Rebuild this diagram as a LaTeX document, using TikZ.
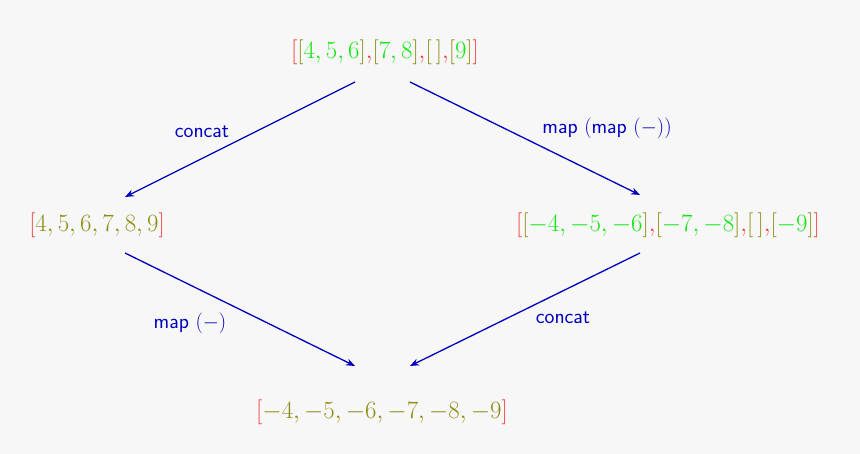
\documentclass[tikz,border=0pt]{standalone}
\usetikzlibrary{arrows.meta}
\definecolor{bg}{RGB}{247,247,247}
\definecolor{lred}{RGB}{240,60,60}
\definecolor{lgreen}{RGB}{20,230,20}
\definecolor{lolive}{RGB}{140,140,20}
\definecolor{lblue}{RGB}{0,0,190}
\newcommand{\R}[1]{\textcolor{lred}{#1}}
\newcommand{\G}[1]{\textcolor{lgreen}{#1}}
\newcommand{\Ol}[1]{\textcolor{lolive}{#1}}
\begin{document}
\begin{tikzpicture}[x=1pt,y=-1pt,
  every node/.style={font=\fontsize{23}{28}\selectfont},
  lab/.style={text=lblue,font=\fontsize{21}{26}\selectfont\sffamily},
  arr/.style={-{Stealth[length=9pt,width=7pt]},lblue,line width=1.3pt}]
\fill[bg] (0,0) rectangle (860,454);
\node (top) at (385,52) {$\R{[}\Ol{[}\G{4,5,6}\Ol{]}\R{,}\Ol{[}\G{7,8}\Ol{]}\R{,}\Ol{[\,]}\R{,}\Ol{[}\G{9}\Ol{]}\R{]}$};
\node (left) at (97,225) {$\R{[}\Ol{4,5,6,7,8,9}\R{]}$};
\node (right) at (668,225) {$\R{[}\Ol{[}\G{-4,-5,-6}\Ol{]}\R{,}\Ol{[}\G{-7,-8}\Ol{]}\R{,}\Ol{[\,]}\R{,}\Ol{[}\G{-9}\Ol{]}\R{]}$};
\node (bot) at (382,412) {$\R{[}\Ol{-4,-5,-6,-7,-8,-9}\R{]}$};
\coordinate (a1) at (355,82); \coordinate (a2) at (125,197);
\coordinate (b1) at (410,82); \coordinate (b2) at (640,195);
\coordinate (c1) at (125,253); \coordinate (c2) at (355,366);
\coordinate (d1) at (640,253); \coordinate (d2) at (410,366);
\draw[arr] (a1) -- (a2);
\draw[arr] (b1) -- (b2);
\draw[arr] (c1) -- (c2);
\draw[arr] (d1) -- (d2);
\node[lab] (l1) at (202,132) {concat};
\node[lab] (l2) at (607,128) {map $(\textsf{map}\ (-))$};
\node[lab] (l3) at (190,323) {map $(-)$};
\node[lab] (l4) at (563,318) {concat};
\end{tikzpicture}
\end{document}
